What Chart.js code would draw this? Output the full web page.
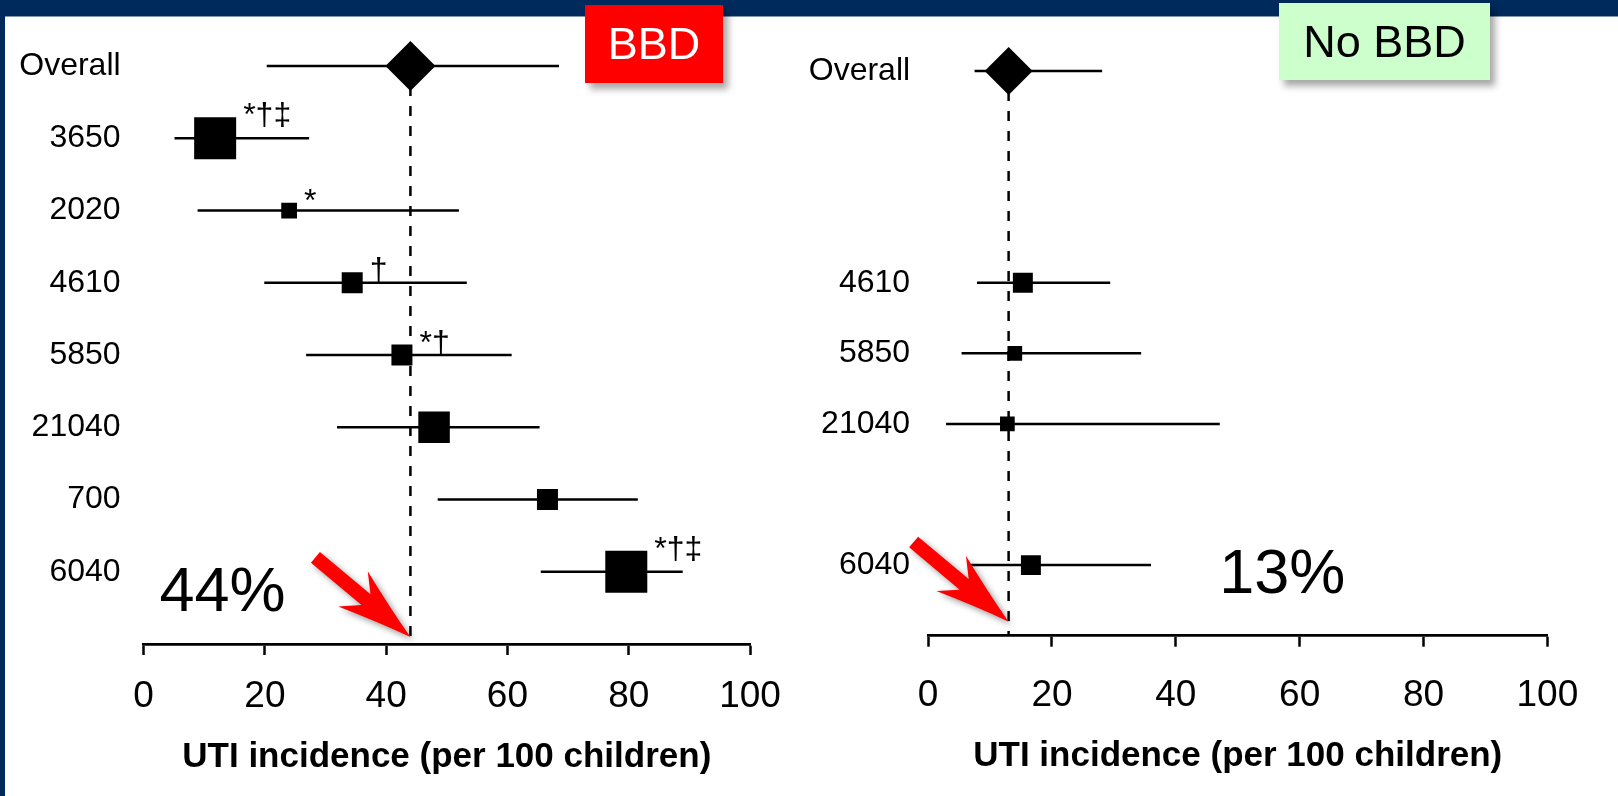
<!DOCTYPE html>
<html>
<head>
<meta charset="utf-8">
<title>UTI incidence by cohort</title>
<script src="https://cdn.jsdelivr.net/npm/chart.js@4"></script>
<style>
  html, body { margin: 0; padding: 0; background: #fff; }
  body { position: relative; width: 1618px; height: 796px; overflow: hidden;
         font-family: "Liberation Sans", Arial, sans-serif; }
  #band { position: absolute; left: 0; top: 0; width: 1618px; height: 16px;
          background: #002a5c; border-bottom: 1px solid #8096b2; }
  #edge { position: absolute; left: 0; top: 0; width: 5px; height: 796px; background: #002a5c; }
  canvas { position: absolute; top: 0; }
  .tag { position: absolute; display: flex; align-items: center; justify-content: center;
         box-shadow: 5px 6px 7px rgba(0,0,0,0.35); z-index: 2; }
  #tagBBD { left: 585px; top: 5px; width: 138px; height: 78px; background: #ff0000;
            color: #fff; font-size: 45px; }
  #tagNoBBD { left: 1279px; top: 3px; width: 211px; height: 77px; background: #ccffcc;
              color: #000; font-size: 45px; }
</style>
</head>
<body>
<div id="band"></div>
<div id="edge"></div>
<canvas id="bbdChart" width="790" height="796" style="left:0px"></canvas>
<canvas id="noBbdChart" width="828" height="796" style="left:790px"></canvas>
<div class="tag" id="tagBBD">BBD</div>
<div class="tag" id="tagNoBBD">No BBD</div>

<script>
// Rows of the forest plot (cohort size labels), top to bottom
const rowLabels = ['Overall', '3650', '2020', '4610', '5850', '21040', '700', '6040'];
const xTicks = [0, 20, 40, 60, 80, 100];
const axisTitle = 'UTI incidence (per 100 children)';

// Children with bladder and bowel dysfunction
const bbdEstimate = [44, 11.8, 24.0, 34.4, 42.6, 47.9, 66.6, 79.6];
const bbdLower    = [20.3, 5.1, 8.9, 19.9, 26.8, 31.9, 48.5, 65.5];
const bbdUpper    = [68.5, 27.3, 52.0, 53.3, 60.7, 65.3, 81.5, 88.9];
const bbdWeight   = [null, 4, 1.5, 2, 2, 3, 2, 4];
const bbdMarks    = ['', '*\u2020\u2021', '*', '\u2020', '*\u2020', '', '', '*\u2020\u2021'];
const bbdSummary  = '44%';

// Children without bladder and bowel dysfunction
const noBbdEstimate = [13, null, null, 15.3, 14.0, 12.8, null, 16.6];
const noBbdLower    = [7.5, null, null, 7.9, 5.4, 2.9, null, 6.8];
const noBbdUpper    = [28.1, null, null, 29.4, 34.4, 47.1, null, 36.0];
const noBbdWeight   = [null, null, null, 1.9, 1.4, 1.4, null, 1.9];
const noBbdMarks    = ['', '', '', '', '', '', '', ''];
const noBbdSummary  = '13%';

const FONT = '"Liberation Sans", Arial, sans-serif';
const SIDE_PER_WEIGHT = 10.5;   // square side (px) per unit of study weight

function squareSide(w) { return w * SIDE_PER_WEIGHT; }

// Red block arrow whose tip sits at (tipX, tipY)
function drawArrow(ctx, tipX, tipY) {
  ctx.save();
  ctx.translate(tipX, tipY);
  ctx.rotate(40 * Math.PI / 180);
  ctx.translate(-124, 0);
  ctx.shadowColor = 'rgba(0,0,0,0.4)';
  ctx.shadowBlur = 6;
  ctx.shadowOffsetX = 3;
  ctx.shadowOffsetY = 3;
  ctx.beginPath();
  ctx.moveTo(0, -7);
  ctx.lineTo(66, -7);
  ctx.lineTo(49, -23);
  ctx.quadraticCurveTo(90, -9, 124, 0);
  ctx.quadraticCurveTo(90, 9, 49, 23);
  ctx.lineTo(66, 7);
  ctx.lineTo(0, 7);
  ctx.closePath();
  ctx.fillStyle = '#ff0000';
  ctx.fill();
  ctx.restore();
}

const forestNotes = {
  id: 'forestNotes',
  afterDatasetsDraw(chart, args, opts) {
    const ctx = chart.ctx;
    const xs = chart.scales.x, ys = chart.scales.y;
    ctx.save();
    // significance marks beside each square
    ctx.fillStyle = '#000';
    ctx.font = '32px ' + FONT;
    ctx.textAlign = 'left';
    ctx.textBaseline = 'alphabetic';
    opts.marks.forEach((m, i) => {
      if (!m || opts.est[i] == null) return;
      const half = squareSide(opts.weight[i]) / 2;
      const px = xs.getPixelForValue(opts.est[i]);
      const py = ys.getPixelForValue(i);
      ctx.fillText(m, px + half + 7, py - half + 8);
    });
    // pooled estimate callout
    ctx.font = '63px ' + FONT;
    ctx.textAlign = 'center';
    ctx.textBaseline = 'middle';
    ctx.fillText(opts.summary, xs.getPixelForValue(opts.summaryAt.x), ys.getPixelForValue(opts.summaryAt.y));
    ctx.restore();
    drawArrow(ctx, xs.getPixelForValue(opts.est[0]), chart.chartArea.bottom - opts.arrowGap);
  }
};

function buildForest(canvasId, d, L) {
  const rows = d.est.map((v, i) => i).filter(i => d.est[i] != null);
  const points = rows.map(i => ({ x: d.est[i], y: i }));
  const styles = rows.map(i => i === 0 ? 'rectRot' : 'rect');
  const radii = rows.map(i => i === 0 ? L.diamondR : squareSide(d.weight[i]) / (2 * Math.SQRT1_2));
  const ci = [];
  rows.forEach(i => { ci.push({ x: d.lo[i], y: i }, { x: d.hi[i], y: i }, { x: d.hi[i], y: null }); });
  const ref = [{ x: d.est[0], y: 0 }, { x: d.est[0], y: rowLabels.length }];

  return new Chart(document.getElementById(canvasId), {
    type: 'scatter',
    data: {
      datasets: [
        { type: 'scatter', data: points, pointStyle: styles, pointRadius: radii,
          pointBackgroundColor: '#000', pointBorderWidth: 0, order: 0 },
        { type: 'line', data: ci, borderColor: '#000', borderWidth: 2.5, pointRadius: 0,
          spanGaps: false, fill: false, order: 1 },
        { type: 'line', data: ref, borderColor: '#000', borderWidth: 2.5, borderDash: [10, 10],
          pointRadius: 0, fill: false, order: 2 }
      ]
    },
    options: {
      responsive: false,
      animation: false,
      events: [],
      layout: { autoPadding: false, padding: { left: 0, top: L.padTop, right: L.padRight, bottom: 0 } },
      plugins: {
        legend: { display: false },
        tooltip: { enabled: false },
        forestNotes: { est: d.est, weight: d.weight, marks: d.marks, summary: d.summary,
                       summaryAt: L.summaryAt, arrowGap: L.arrowGap }
      },
      scales: {
        x: {
          type: 'linear', position: 'bottom', min: 0, max: 100,
          afterBuildTicks: s => { s.ticks = xTicks.map(v => ({ value: v })); },
          afterFit: s => { s.height = L.xAxisHeight; s.paddingLeft = 0; s.paddingRight = 0; },
          grid: { drawOnChartArea: false, drawTicks: true, tickLength: 11, tickWidth: 2.5, tickColor: '#000' },
          border: { display: true, color: '#000', width: 2.7 },
          ticks: { padding: L.tickPad, color: '#000', maxRotation: 0, font: { family: FONT, size: 37 } },
          title: { display: true, text: axisTitle, color: '#000',
                   font: { family: FONT, size: 35, weight: 'bold' },
                   padding: { top: 0, bottom: L.titlePad } }
        },
        y: {
          type: 'linear', reverse: true, min: -0.9, max: rowLabels.length,
          afterBuildTicks: s => { s.ticks = rowLabels.map((t, i) => ({ value: i })); },
          afterFit: s => { s.width = L.yAxisWidth; s.paddingTop = 0; s.paddingBottom = 0; },
          grid: { display: false, drawTicks: false },
          border: { display: false },
          ticks: {
            padding: L.labelPad, color: '#000', autoSkip: false,
            callback: v => (d.est[v] != null ? rowLabels[v] : ''),
            font: { family: FONT, size: 32 }
          }
        }
      }
    },
    plugins: [forestNotes]
  });
}

buildForest('bbdChart',
  { est: bbdEstimate, lo: bbdLower, hi: bbdUpper, weight: bbdWeight, marks: bbdMarks, summary: bbdSummary },
  { yAxisWidth: 143.6, xAxisHeight: 152, padTop: 1, padRight: 40, tickPad: 19.2, titlePad: 17.2,
    labelPad: 23, diamondR: 25, arrowGap: 7, summaryAt: { x: 13, y: 7.3 } });

buildForest('noBbdChart',
  { est: noBbdEstimate, lo: noBbdLower, hi: noBbdUpper, weight: noBbdWeight, marks: noBbdMarks, summary: noBbdSummary },
  { yAxisWidth: 138.1, xAxisHeight: 160.3, padTop: 7.5, padRight: 70.6, tickPad: 26.8, titlePad: 18.5,
    labelPad: 18, diamondR: 24, arrowGap: 14, summaryAt: { x: 57.2, y: 7.15 } });
</script>
</body>
</html>
